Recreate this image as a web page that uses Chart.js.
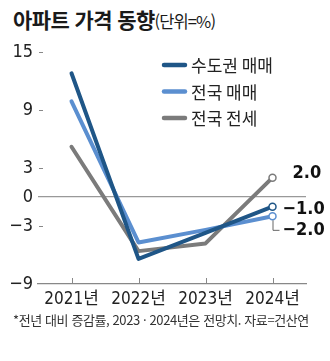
<!DOCTYPE html>
<html lang="ko">
<head>
<meta charset="utf-8">
<script src="https://cdn.jsdelivr.net/npm/chart.js@4.4.1/dist/chart.umd.min.js"></script>
<style>
  html, body { margin: 0; padding: 0; background: #fff; }
  body { width: 330px; height: 361px; position: relative; overflow: hidden; }
  #chart { position: absolute; left: 0; top: 0; }
  .title {
    position: absolute; left: 13px; top: 4px; margin: 0;
    font-family: "Noto Sans CJK KR", sans-serif; font-weight: 700; font-size: 21px;
    color: #1a1a1a; letter-spacing: -0.6px; white-space: nowrap;
  }
  .title span { font-weight: 400; font-size: 16.5px; letter-spacing: -0.9px; }
  .note {
    position: absolute; left: 13px; top: 310px; margin: 0;
    font-family: "Noto Sans CJK KR", sans-serif; font-size: 13px; color: #333;
    letter-spacing: -0.4px; white-space: nowrap;
  }
</style>
</head>
<body>
<div class="title">아파트 가격 동향<span>(단위=%)</span></div>
<canvas id="chart" width="330" height="361"></canvas>
<div class="note">*전년 대비 증감률, 2023 · 2024년은 전망치. 자료=건산연</div>

<script>
// ---- data ----
const years = ["2021년", "2022년", "2023년", "2024년"];
const seriesNames = ["수도권 매매", "전국 매매", "전국 전세"];
const capitalSale = [12.8, -6.4, -3.7, -1.0];
const nationSale = [9.9, -4.7, -3.4, -2.0];
const nationJeonse = [5.2, -5.6, -4.8, 2.0];
const yTicks = [-9, -3, 0, 3, 9, 15];

const COLORS = ["#1f5687", "#5b8fd0", "#7b7b7b"];
const NARROW = "'Liberation Sans Narrow', 'DejaVu Sans Condensed', 'Noto Sans CJK KR', sans-serif";
const minus = (v) => (v < 0 ? "\u2212" + Math.abs(v) : String(v));
const fmt1 = (v) => (v < 0 ? "\u2212" : "") + Math.abs(v).toFixed(1);

// end-label offsets relative to the last point (dx, dy, leader line?)
const endLabelPos = [
  { dx: 10, dy: 3, leader: false },
  { dx: 10, dy: 14, leader: true },
  { dx: 20, dy: -4, leader: false },
];

const decor = {
  id: "decor",
  afterDraw(chart) {
    const { ctx, chartArea: a, scales: { x, y } } = chart;
    ctx.save();
    // small y tick dashes
    ctx.strokeStyle = "#888";
    ctx.lineWidth = 1;
    yTicks.forEach(v => {
      if (v === 0 || v === yTicks[0]) return;
      const py = Math.round(y.getPixelForValue(v)) + 0.5;
      ctx.beginPath(); ctx.moveTo(a.left + 1, py); ctx.lineTo(a.left + 5, py); ctx.stroke();
    });
    // x tick marks above axis
    years.forEach((_, i) => {
      const px = Math.round(x.getPixelForValue(i)) + 0.5;
      ctx.beginPath(); ctx.moveTo(px, a.bottom); ctx.lineTo(px, a.bottom - 6); ctx.stroke();
    });

    // legend
    chart.data.datasets.forEach((ds, i) => {
      const ly = 65 + i * 26.5;
      ctx.strokeStyle = ds.borderColor;
      ctx.lineWidth = 4.5;
      ctx.lineCap = "round";
      ctx.beginPath(); ctx.moveTo(164, ly); ctx.lineTo(185, ly); ctx.stroke();
      ctx.fillStyle = "#222";
      ctx.font = "17px 'Noto Sans CJK KR', sans-serif";
      ctx.textBaseline = "middle";
      ctx.textAlign = "left";
      ctx.fillText(ds.label, 191, ly + 1);
    });

    // end labels
    chart.data.datasets.forEach((ds, i) => {
      const meta = chart.getDatasetMeta(i);
      const pt = meta.data[meta.data.length - 1];
      const v = ds.data[ds.data.length - 1];
      const p = endLabelPos[i];
      if (p.leader) {
        ctx.strokeStyle = "#666"; ctx.lineWidth = 1; ctx.lineCap = "butt";
        ctx.beginPath();
        ctx.moveTo(pt.x + 0.5, pt.y + 4);
        ctx.lineTo(pt.x + 0.5, pt.y + p.dy);
        ctx.lineTo(pt.x + 7, pt.y + p.dy);
        ctx.stroke();
      }
      ctx.fillStyle = "#111";
      ctx.font = "bold 18px " + NARROW;
      ctx.textBaseline = "middle";
      ctx.textAlign = "left";
      ctx.fillText(fmt1(v), pt.x + p.dx, pt.y + p.dy);
    });
    ctx.restore();
  }
};

const mkSet = (label, data, color) => ({
  label, data,
  borderColor: color,
  backgroundColor: color,
  borderWidth: 4,
  borderCapStyle: "round",
  borderJoinStyle: "round",
  tension: 0,
  pointRadius: data.map((_, i) => (i === data.length - 1 ? 3.5 : 0)),
  pointBackgroundColor: "#fff",
  pointBorderColor: color,
  pointBorderWidth: 1.5,
});

new Chart(document.getElementById("chart"), {
  type: "line",
  data: {
    labels: years,
    datasets: [
      mkSet(seriesNames[0], capitalSale, COLORS[0]),
      mkSet(seriesNames[1], nationSale, COLORS[1]),
      mkSet(seriesNames[2], nationJeonse, COLORS[2]),
    ]
  },
  options: {
    responsive: false,
    animation: false,
    layout: { padding: { top: 52, right: 24, bottom: 47, left: 0 } },
    plugins: { legend: { display: false }, tooltip: { enabled: false } },
    scales: {
      x: {
        offset: true,
        grid: { display: true, color: "transparent", drawTicks: false },
        border: { display: true, color: "#888", width: 1.2 },
        ticks: { padding: 5, color: "#222", font: { family: NARROW, size: 17 } },
        afterFit: (s) => { s.height = 30; },
      },
      y: {
        min: -9, max: 15,
        afterBuildTicks: (s) => { s.ticks = yTicks.map(v => ({ value: v })); },
        grid: {
          drawTicks: false,
          color: (c) => (c.tick && c.tick.value === 0 ? "#999" : "transparent"),
          lineWidth: 1.2,
        },
        border: { display: false },
        ticks: {
          padding: 5, color: "#222",
          font: { family: NARROW, size: 18 },
          callback: (v) => minus(v),
        },
        afterFit: (s) => { s.width = 38; },
      }
    }
  },
  plugins: [decor]
});
</script>
</body>
</html>
